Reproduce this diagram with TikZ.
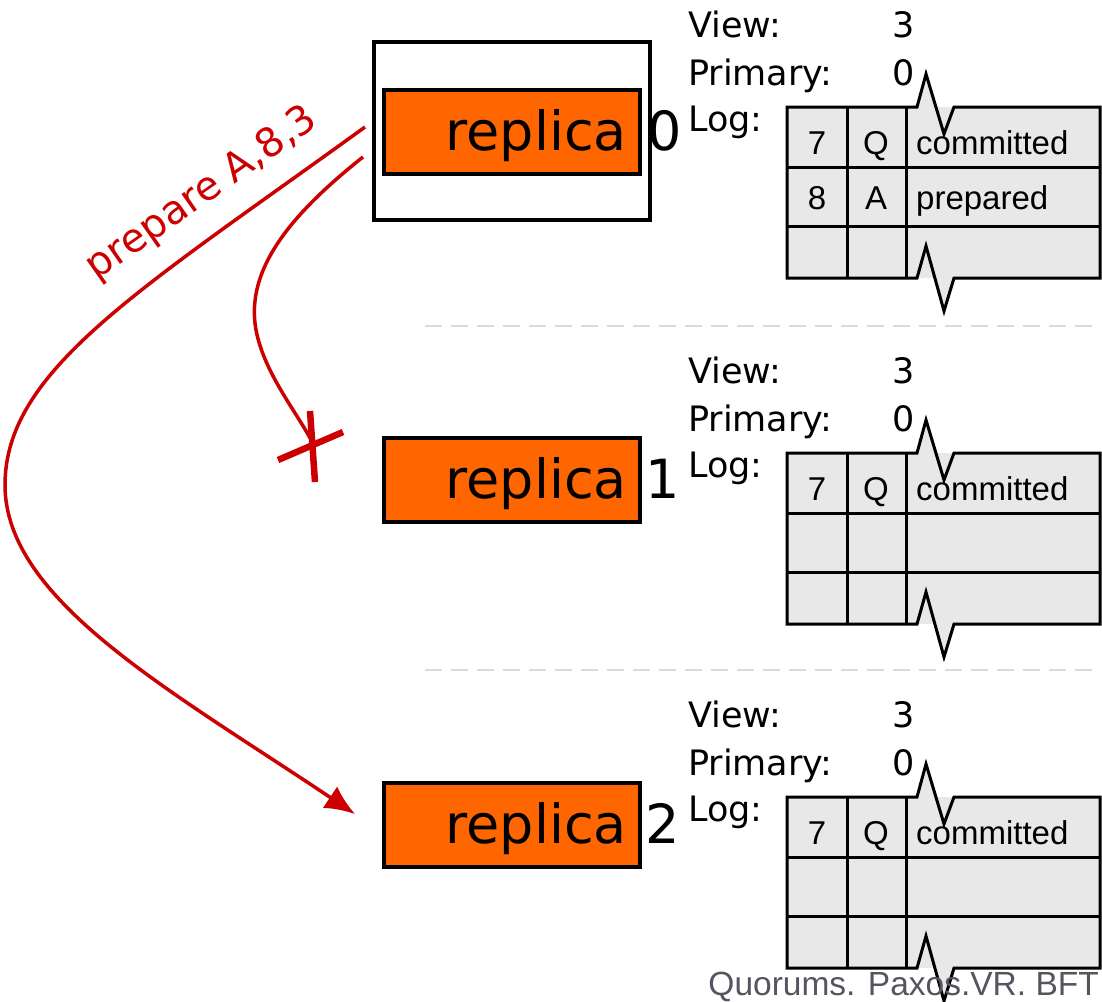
\documentclass[tikz,border=0pt]{standalone}
\usepackage{fontspec}
\usetikzlibrary{arrows.meta}
\newfontfamily\lblfont{DejaVu Sans}
\newfontfamily\tblfont{Liberation Sans}
\definecolor{msgred}{RGB}{204,0,0}
\definecolor{replorange}{RGB}{255,102,0}
\definecolor{cellgray}{RGB}{232,232,232}
\definecolor{sepgray}{RGB}{218,218,218}
\definecolor{footgray}{RGB}{85,85,95}

% one replica's state: view, primary and a torn log table
\newcommand{\replicastate}[4]{%
  \begin{scope}[shift={(0,#1)}]
    \node[statetxt] (#2view) at (688,37) {View:};
    \node[statetxt] (#2viewv) at (892,37) {3};
    \node[statetxt] (#2prim) at (688,85) {Primary:};
    \node[statetxt] (#2primv) at (892,85) {0};
    \node[statetxt] (#2log) at (688,131) {Log:};
    \fill[cellgray] (787,107) rectangle (1100,278);
    \filldraw[logframe] (787,107) -- (917,107) -- (926,74) -- (944,134) -- (954,107)
      -- (1100,107) -- (1100,278) -- (954,278) -- (944,311) -- (926,246) -- (917,278)
      -- (787,278) -- cycle;
    \draw[loggrid] (787,167) -- (1100,167) (787,226) -- (1100,226)
      (847,107) -- (847,278) (906,107) -- (906,278);
    #3
    #4
  \end{scope}}

\begin{document}
\begin{tikzpicture}[x=1pt,y=-1pt,
  statetxt/.style={anchor=base west,inner sep=0pt,font=\lblfont\fontsize{35}{40}\selectfont},
  celltxt/.style={anchor=base,inner sep=0pt,font=\tblfont\fontsize{33}{38}\selectfont},
  celltxtl/.style={celltxt,anchor=base west},
  logframe/.style={fill=cellgray,draw=black,line width=3pt,line join=miter},
  loggrid/.style={draw=black,line width=3pt},
  replbox/.style={draw=black,line width=4pt,fill=replorange,minimum width=256pt,
    minimum height=84pt,inner sep=0pt},
  repltxt/.style={anchor=base east,inner sep=0pt,font=\lblfont\fontsize{54}{60}\selectfont},
  replnum/.style={anchor=base west,inner sep=0pt,font=\lblfont\fontsize{54}{60}\selectfont},
  primframe/.style={draw=black,line width=4pt,fill=white,minimum width=276pt,
    minimum height=178pt,inner sep=0pt},
  sepline/.style={draw=sepgray,line width=2pt,dash pattern=on 17pt off 9pt},
  msg/.style={draw=msgred,line width=3.5pt},
  xstroke/.style={draw=msgred,line width=6.5pt}]
\useasboundingbox (0,0) rectangle (1102,1001);

% primary highlight frame and the three replicas
\node[primframe] (frame0) at (512,131) {};
\node[replbox] (r0) at (512,132) {};
\node[replbox] (r1) at (512,480) {};
\node[replbox] (r2) at (512,825) {};
\node[repltxt] (t0) at (627,150) {replica};
\node[repltxt] (t1) at (627,498) {replica};
\node[repltxt] (t2) at (627,843) {replica};
\node[replnum] (n0) at (647,150) {0};
\node[replnum] (n1) at (645,498) {1};
\node[replnum] (n2) at (645,843) {2};

% per-replica state
\replicastate{0}{a}{%
  \node[celltxt] (a7) at (817,154) {7};
  \node[celltxt] (aQ) at (876,154) {Q};
  \node[celltxtl] (ac) at (916,154) {committed};}{%
  \node[celltxt] (a8) at (817,209) {8};
  \node[celltxt] (aA) at (876,209) {A};
  \node[celltxtl] (ap) at (916,209) {prepared};}
\replicastate{346}{b}{%
  \node[celltxt] (b7) at (817,154) {7};
  \node[celltxt] (bQ) at (876,154) {Q};
  \node[celltxtl] (bc) at (916,154) {committed};}{}
\replicastate{690}{c}{%
  \node[celltxt] (c7) at (817,154) {7};
  \node[celltxt] (cQ) at (876,154) {Q};
  \node[celltxtl] (cc) at (916,154) {committed};}{}

% separators between replicas
\draw[sepline] (425,326) -- (1100,326);
\draw[sepline] (425,670) -- (1100,670);

% prepare messages from the primary
\coordinate (src1) at (365,127);
\coordinate (src2) at (363,157);
\coordinate (dst2) at (355,814);
\coordinate (lost) at (310,438);
\coordinate (cross) at (312,446);
\draw[msg,-{Latex[length=30pt,width=26pt]}] (src1)
  .. controls (140,290) and (5,370) .. (5,485)
  .. controls (5,600) and (170,690) .. (dst2);
\draw[msg] (src2)
  .. controls (290,215) and (245,270) .. (256,330)
  .. controls (264,372) and (295,410) .. (lost);
\draw[xstroke] ([shift={(-2,-35)}]cross) -- ([shift={(3,36)}]cross);
\draw[xstroke] ([shift={(-34,14)}]cross) -- ([shift={(31,-14)}]cross);
\node[text=msgred,font=\lblfont\fontsize{40}{45}\selectfont,rotate=35,inner sep=0pt]
  (plabel) at (202,194) {prepare A,8,3};

% footer
\node[anchor=base east,inner sep=0pt,text=footgray,font=\tblfont\fontsize{33.5}{38}\selectfont]
  (foot) at (1099,995) {Quorums. Paxos.VR. BFT};
\end{tikzpicture}
\end{document}
